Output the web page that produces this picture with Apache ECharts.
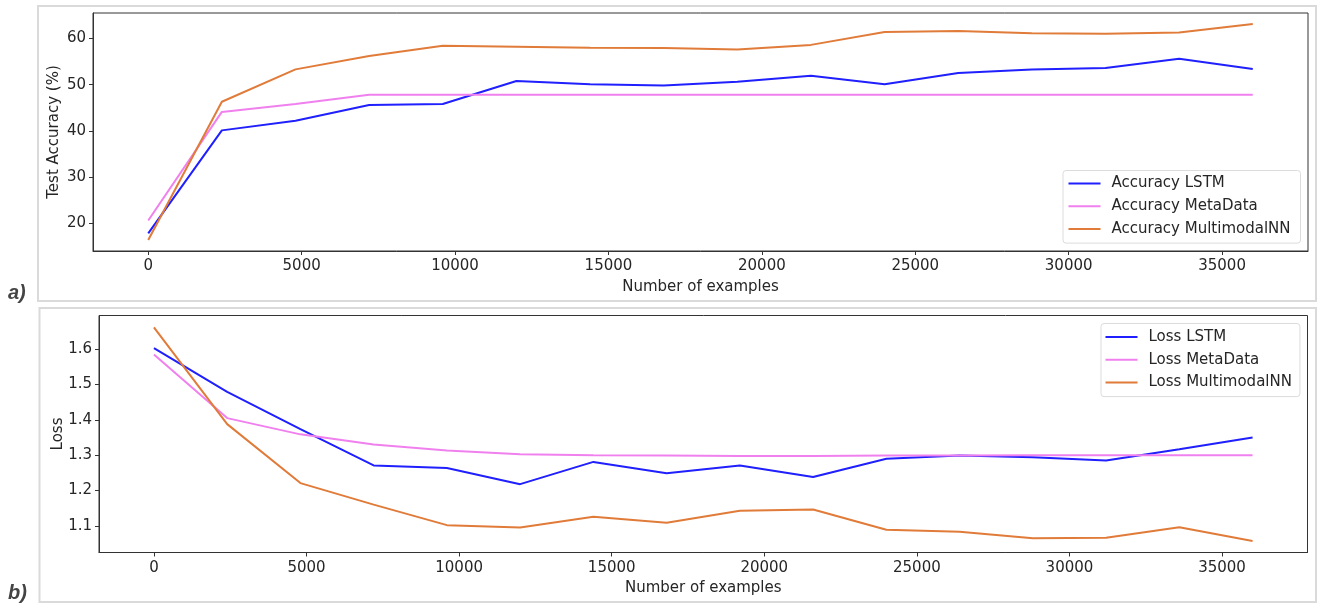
<!DOCTYPE html>
<html>
<head>
<meta charset="utf-8">
<script src="https://cdn.jsdelivr.net/npm/echarts@6/dist/echarts.min.js"></script>
<style>
html,body{margin:0;padding:0;background:#fff;}
#chart{width:1318px;height:604px;}
</style>
</head>
<body>
<div id="chart"></div>
<script>
// ---- data ----
const examples = [0, 2400, 4800, 7200, 9600, 12000, 14400, 16800, 19200, 21600, 24000, 26400, 28800, 31200, 33600, 36000];

const accLSTM      = [17.8, 40.1, 42.2, 45.6, 45.8, 50.8, 50.1, 49.8, 50.6, 51.9, 50.1, 52.5, 53.3, 53.6, 55.6, 53.4];
const accMetaData  = [20.6, 44.1, 45.8, 47.8, 47.8, 47.8, 47.8, 47.8, 47.8, 47.8, 47.8, 47.8, 47.8, 47.8, 47.8, 47.8];
const accMultimodal= [16.4, 46.3, 53.3, 56.2, 58.4, 58.2, 58.0, 57.9, 57.6, 58.6, 61.4, 61.6, 61.1, 61.0, 61.3, 63.1];

const lossLSTM      = [1.603, 1.479, 1.374, 1.271, 1.264, 1.218, 1.281, 1.249, 1.271, 1.238, 1.290, 1.299, 1.294, 1.285, 1.317, 1.350];
const lossMetaData  = [1.585, 1.405, 1.359, 1.330, 1.313, 1.303, 1.300, 1.299, 1.298, 1.298, 1.299, 1.299, 1.300, 1.300, 1.300, 1.300];
const lossMultimodal= [1.662, 1.388, 1.221, 1.160, 1.102, 1.095, 1.126, 1.109, 1.143, 1.146, 1.089, 1.083, 1.065, 1.066, 1.096, 1.057];

const xTicks = [0, 5000, 10000, 15000, 20000, 25000, 30000, 35000];
const accTicks = [20, 30, 40, 50, 60];
const lossTicks = [1.1, 1.2, 1.3, 1.4, 1.5, 1.6];

const accNames = ['Accuracy LSTM', 'Accuracy MetaData', 'Accuracy MultimodalNN'];
const lossNames = ['Loss LSTM', 'Loss MetaData', 'Loss MultimodalNN'];

// ---- styling ----
const colors = ['#1f1fff', '#f080ee', '#e07b39'];
const FONT = 'DejaVu Sans';
const textColor = '#262626';
const frameColor = '#333333';

const pair = (ys) => examples.map((x, i) => [x, ys[i]]);

function xAxisCfg(gridIndex) {
  return {
    type: 'value', gridIndex: gridIndex,
    min: -1800, max: 37800,
    name: 'Number of examples', nameLocation: 'middle', nameGap: 28.5, nameMoveOverlap: false,
    nameTextStyle: { fontFamily: FONT, fontSize: 15, color: textColor },
    axisLine: { show: true, onZero: false, lineStyle: { color: frameColor, width: 1 } },
    axisTick: { show: true, length: 4, inside: false, customValues: xTicks, lineStyle: { color: frameColor } },
    axisLabel: { show: true, customValues: xTicks, margin: 8, fontFamily: FONT, fontSize: 15, color: textColor,
                 formatter: (v) => String(v) },
    splitLine: { show: false }
  };
}
function yAxisCfg(gridIndex, min, max, ticks, name, gap, dec) {
  return {
    type: 'value', gridIndex: gridIndex,
    min: min, max: max,
    name: name, nameLocation: 'middle', nameGap: gap, nameRotate: 90, nameMoveOverlap: false,
    nameTextStyle: { fontFamily: FONT, fontSize: 15, color: textColor },
    axisLine: { show: true, onZero: false, lineStyle: { color: frameColor, width: 1 } },
    axisTick: { show: true, length: 4, inside: false, customValues: ticks, lineStyle: { color: frameColor } },
    axisLabel: { show: true, customValues: ticks, margin: 7, fontFamily: FONT, fontSize: 15, color: textColor,
                 formatter: (v) => v.toFixed(dec) },
    splitLine: { show: false }
  };
}
function lineSeries(name, data, idx, axisIdx) {
  return {
    type: 'line', name: name, data: pair(data),
    xAxisIndex: axisIdx, yAxisIndex: axisIdx,
    showSymbol: false, symbol: 'none', smooth: false,
    lineStyle: { color: colors[idx], width: 2 },
    itemStyle: { color: colors[idx] },
    emphasis: { disabled: true },
    animation: false
  };
}
function legendCfg(names, left, top, pad) {
  return {
    data: names, orient: 'vertical', left: left, top: top,
    icon: 'rect', itemWidth: 32, itemHeight: 2, itemGap: 4.8,
    padding: pad,
    borderColor: '#dcdcdc', borderWidth: 1, borderRadius: 3,
    backgroundColor: 'rgba(255,255,255,0.85)',
    selectedMode: false,
    textStyle: { fontFamily: FONT, fontSize: 15, color: textColor, lineHeight: 18, padding: [0, 0, 0, 6] }
  };
}

const chart = echarts.init(document.getElementById('chart'), null, { renderer: 'canvas' });
chart.setOption({
  animation: false,
  backgroundColor: '#ffffff',
  grid: [
    { left: 93, top: 13, width: 1215, height: 238, show: true, borderColor: frameColor, borderWidth: 1, backgroundColor: 'transparent' },
    { left: 99, top: 315.5, width: 1208.5, height: 237, show: true, borderColor: frameColor, borderWidth: 1, backgroundColor: 'transparent' }
  ],
  xAxis: [xAxisCfg(0), xAxisCfg(1)],
  yAxis: [
    yAxisCfg(0, 14.0, 65.5, accTicks, 'Test Accuracy (%)', 31.5, 0),
    yAxisCfg(1, 1.0245, 1.6955, lossTicks, 'Loss', 33.5, 1)
  ],
  legend: [
    legendCfg(accNames, 1063, 170.5, [4, 10, 5, 5.5]),
    legendCfg(lossNames, 1101, 323.5, [4.5, 8, 5, 4.5])
  ],
  series: [
    lineSeries(accNames[0], accLSTM, 0, 0),
    lineSeries(accNames[1], accMetaData, 1, 0),
    lineSeries(accNames[2], accMultimodal, 2, 0),
    lineSeries(lossNames[0], lossLSTM, 0, 1),
    lineSeries(lossNames[1], lossMetaData, 1, 1),
    lineSeries(lossNames[2], lossMultimodal, 2, 1)
  ],
  graphic: [
    { type: 'rect', shape: { x: 38, y: 6, width: 1278, height: 295 }, style: { fill: 'none', stroke: '#dadada', lineWidth: 2 }, silent: true, z: -1 },
    { type: 'rect', shape: { x: 39.5, y: 308, width: 1276.5, height: 294 }, style: { fill: 'none', stroke: '#dadada', lineWidth: 2 }, silent: true, z: -1 },
    { type: 'text', left: 8, top: 283, style: { text: 'a)', font: 'italic bold 20px "Liberation Sans", Arial, sans-serif', fill: '#444444' }, silent: true },
    { type: 'text', left: 8, top: 583, style: { text: 'b)', font: 'italic bold 20px "Liberation Sans", Arial, sans-serif', fill: '#444444' }, silent: true }
  ]
});
</script>
</body>
</html>
